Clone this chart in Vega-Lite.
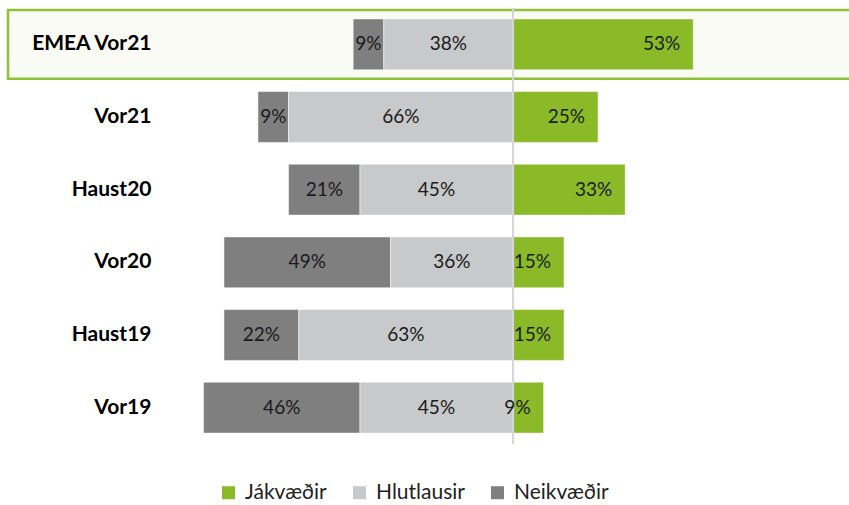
{
  "$schema": "https://vega.github.io/schema/vega-lite/v6.json",
  "width": 841,
  "height": 436,
  "autosize": "none",
  "padding": {"left": 8, "top": 8, "right": 0, "bottom": 61},
  "config": {"view": {"stroke": null}, "font": "Lato"},
  "data": {
    "values": [
      {"cat": "EMEA Vor21", "type": "Neikvæðir", "value": 9},
      {"cat": "EMEA Vor21", "type": "Hlutlausir", "value": 38},
      {"cat": "EMEA Vor21", "type": "Jákvæðir", "value": 53},
      {"cat": "Vor21", "type": "Neikvæðir", "value": 9},
      {"cat": "Vor21", "type": "Hlutlausir", "value": 66},
      {"cat": "Vor21", "type": "Jákvæðir", "value": 25},
      {"cat": "Haust20", "type": "Neikvæðir", "value": 21},
      {"cat": "Haust20", "type": "Hlutlausir", "value": 45},
      {"cat": "Haust20", "type": "Jákvæðir", "value": 33},
      {"cat": "Vor20", "type": "Neikvæðir", "value": 49},
      {"cat": "Vor20", "type": "Hlutlausir", "value": 36},
      {"cat": "Vor20", "type": "Jákvæðir", "value": 15},
      {"cat": "Haust19", "type": "Neikvæðir", "value": 22},
      {"cat": "Haust19", "type": "Hlutlausir", "value": 63},
      {"cat": "Haust19", "type": "Jákvæðir", "value": 15},
      {"cat": "Vor19", "type": "Neikvæðir", "value": 46},
      {"cat": "Vor19", "type": "Hlutlausir", "value": 45},
      {"cat": "Vor19", "type": "Jákvæðir", "value": 9}
    ]
  },
  "transform": [
    {"calculate": "datum.type === 'Jákvæðir' ? datum.value : -datum.value", "as": "sv"},
    {"calculate": "datum.value + '%'", "as": "label"},
    {"stack": "sv", "groupby": ["cat"], "sort": [{"field": "type", "order": "ascending"}], "as": ["x0", "x1"]},
    {"calculate": "(datum.x0 + datum.x1) / 2", "as": "mid"}
  ],
  "layer": [
    {
      "transform": [{"filter": "datum.cat === 'EMEA Vor21' && datum.type === 'Jákvæðir'"}],
      "mark": {"type": "rect", "height": {"band": 1.35}, "fill": "#f9fbf4", "stroke": "#8fc136", "strokeWidth": 2.5, "strokeDash": [841, 68.7, 1000]},
      "encoding": {
        "y": {
          "field": "cat",
          "type": "nominal",
          "sort": ["EMEA Vor21", "Vor21", "Haust20", "Vor20", "Haust19", "Vor19"],
          "scale": {"paddingInner": 0.3, "paddingOuter": 0.15},
          "axis": {
            "title": null,
            "ticks": false,
            "domain": false,
            "offset": -143,
            "labelPadding": 0,
            "labelAlign": "right",
            "labelFont": "Lato",
            "labelFontSize": 21,
            "labelFontWeight": "bold",
            "labelColor": "#000000",
            "zindex": 1
          }
        }
      }
    },
    {
      "mark": {"type": "bar", "stroke": "#ffffff", "strokeWidth": 0.5},
      "encoding": {
        "y": {"field": "cat", "type": "nominal", "sort": ["EMEA Vor21", "Vor21", "Haust20", "Vor20", "Haust19", "Vor19"]},
        "x": {"field": "x0", "type": "quantitative", "scale": {"domain": [-148.5, 98.8], "nice": false, "zero": false}, "axis": null},
        "x2": {"field": "x1"},
        "color": {
          "field": "type",
          "type": "nominal",
          "scale": {"domain": ["Jákvæðir", "Hlutlausir", "Neikvæðir"], "range": ["#8aba27", "#c8c9ca", "#7f7f7f"]},
          "legend": {
            "title": null,
            "orient": "none",
            "legendX": 210,
            "legendY": 474,
            "direction": "horizontal",
            "symbolType": "square",
            "symbolSize": 169,
            "symbolStrokeWidth": 0,
            "labelFont": "Lato",
            "labelFontSize": 21,
            "labelColor": "#222222",
            "labelOffset": 6,
            "columnPadding": 22,
            "padding": 0
          }
        }
      }
    },
    {
      "mark": {"type": "rule", "color": "#d6d6d6", "strokeWidth": 2},
      "encoding": {"x": {"datum": 0}}
    },
    {
      "transform": [{"filter": "datum.type !== 'Jákvæðir'"}],
      "mark": {"type": "text", "font": "Lato", "fontSize": 19, "color": "#1a1a1a", "align": "center", "baseline": "middle"},
      "encoding": {
        "y": {"field": "cat", "type": "nominal", "sort": ["EMEA Vor21", "Vor21", "Haust20", "Vor20", "Haust19", "Vor19"]},
        "x": {"field": "mid", "type": "quantitative"},
        "text": {"field": "label"}
      }
    },
    {
      "transform": [{"filter": "datum.type === 'Jákvæðir'"}],
      "mark": {"type": "text", "font": "Lato", "fontSize": 19, "color": "#1a1a1a", "align": "right", "baseline": "middle", "dx": -13},
      "encoding": {
        "y": {"field": "cat", "type": "nominal", "sort": ["EMEA Vor21", "Vor21", "Haust20", "Vor20", "Haust19", "Vor19"]},
        "x": {"field": "x1", "type": "quantitative"},
        "text": {"field": "label"}
      }
    }
  ]
}
